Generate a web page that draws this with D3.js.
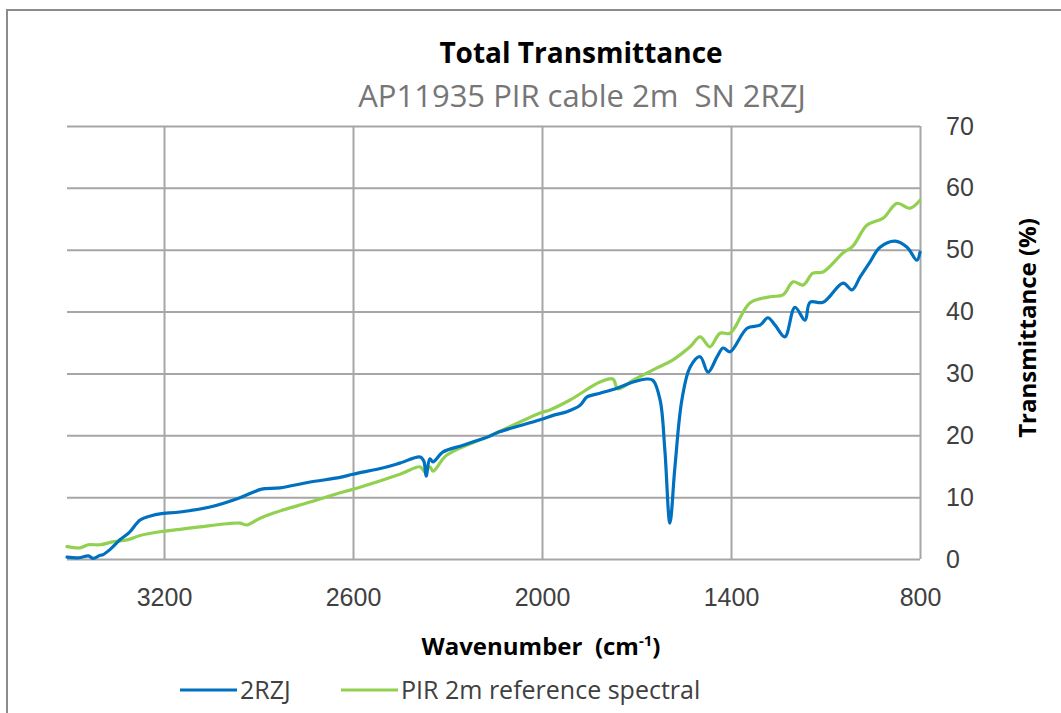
<!DOCTYPE html>
<html>
<head>
<meta charset="utf-8">
<script src="https://cdn.jsdelivr.net/npm/d3@7"></script>
<style>
  body { margin: 0; background: #fff; }
  svg { display: block; font-family: "Open Sans", "Noto Sans", sans-serif; }
</style>
</head>
<body>
<div id="graphicContainer"></div>
<script>

// 2RZJ measured spectrum: wavenumber (cm-1) / transmittance (%)
var blueWn = [3508, 3470, 3440, 3425, 3403, 3394, 3370, 3340, 3310, 3276, 3240, 3213, 3149, 3054, 2959, 2917, 2890, 2832, 2740, 2641, 2600, 2500, 2451, 2387, 2375, 2368, 2356, 2346, 2314, 2250, 2165, 2133, 2006, 1960, 1921, 1880, 1857, 1816, 1762, 1711, 1667, 1648, 1625, 1610, 1594, 1578, 1556, 1530, 1498, 1473, 1444, 1425, 1403, 1349, 1308, 1283, 1260, 1229, 1197, 1165, 1149, 1108, 1044, 1016, 990, 959, 927, 879, 841, 810, 800]
var blueT = [0.3, 0.2, 0.5, 0.1, 0.6, 0.7, 1.6, 3.1, 4.3, 6.3, 7.0, 7.3, 7.6, 8.4, 9.9, 10.8, 11.3, 11.5, 12.4, 13.2, 13.7, 14.8, 15.5, 16.5, 15.8, 13.4, 16.2, 15.7, 17.3, 18.4, 19.9, 20.6, 22.5, 23.3, 23.8, 24.8, 26.2, 26.8, 27.6, 28.6, 29.1, 28.9, 25.7, 17.6, 5.8, 14.9, 25.7, 31.0, 32.7, 30.2, 32.7, 34.1, 33.5, 37.3, 37.8, 39.0, 37.8, 35.9, 40.7, 38.6, 41.5, 41.5, 44.6, 43.5, 45.6, 48.0, 50.4, 51.4, 50.4, 48.3, 49.6]

// PIR 2m reference spectral
var greenWn = [3508, 3467, 3440, 3403, 3360, 3317, 3276, 3213, 3149, 3086, 3000, 2959, 2937, 2895, 2854, 2737, 2641, 2578, 2451, 2387, 2372, 2356, 2346, 2302, 2165, 2006, 1975, 1911, 1816, 1775, 1759, 1711, 1635, 1584, 1530, 1498, 1467, 1435, 1403, 1340, 1276, 1235, 1203, 1171, 1140, 1108, 1044, 1013, 968, 917, 873, 832, 800]
var greenT = [2.0, 1.8, 2.3, 2.3, 2.8, 3.1, 3.8, 4.4, 4.8, 5.2, 5.7, 5.8, 5.5, 6.6, 7.4, 9.2, 10.7, 11.6, 13.7, 14.9, 14.1, 14.9, 14.2, 16.8, 19.9, 23.6, 24.1, 25.7, 28.6, 29.1, 27.5, 28.9, 30.9, 32.2, 34.3, 35.9, 34.3, 36.5, 36.5, 41.4, 42.4, 42.7, 44.8, 44.3, 46.2, 46.4, 49.5, 50.6, 54.0, 55.1, 57.5, 56.7, 58.0]

var xTicks = [3200, 2600, 2000, 1400, 800]
var yTicks = [0, 10, 20, 30, 40, 50, 60, 70]

var seriesNames = ["2RZJ", "PIR 2m reference spectral"]
var seriesColours = ["#0070C0", "#92D050"]

var width = 1061, height = 713

var margin = { top: 126, right: 141, bottom: 154, left: 67 }

var svg = d3.select("#graphicContainer").append("svg")
  .attr("width", width)
  .attr("height", height)

// chart area border (only top and left visible in the frame)
svg.append("rect")
  .attr("x", 7).attr("y", 10)
  .attr("width", 1100).attr("height", 800)
  .attr("fill", "none")
  .attr("stroke", "#8c8c8c")
  .attr("stroke-width", 2)

var x = d3.scaleLinear()
  .domain([3508, 800])
  .range([margin.left, width - margin.right])

var y = d3.scaleLinear()
  .domain([0, 70])
  .range([height - margin.bottom, margin.top])

var gridColour = "#a6a6a6"
var tickColour = "#404040"

// vertical gridlines + x labels
var xAxis = svg.append("g")
  .attr("transform", `translate(0,${y(0)})`)
  .call(d3.axisBottom(x)
    .tickValues(xTicks)
    .tickFormat(d3.format("d"))
    .tickSize(-(y(0) - y(70)))
    .tickPadding(29)
    .tickSizeOuter(0))

xAxis.select(".domain").remove()
xAxis.selectAll("line").attr("stroke", gridColour).attr("stroke-width", 2)
xAxis.selectAll("text")
  .attr("fill", tickColour)
  .style("font-size", "25px")

// horizontal gridlines
var grid = svg.append("g")
  .attr("transform", `translate(${x(800)},0)`)
  .call(d3.axisLeft(y)
    .tickValues(yTicks)
    .tickSize(x(800) - x(3508))
    .tickFormat(""))

grid.select(".domain").remove()
grid.selectAll("line").attr("stroke", gridColour).attr("stroke-width", 2)

// right-hand y axis labels
var yAxis = svg.append("g")
  .attr("transform", `translate(${x(800)},0)`)
  .call(d3.axisRight(y)
    .tickValues(yTicks)
    .tickSize(0)
    .tickPadding(26))

yAxis.select(".domain").remove()
yAxis.selectAll("text")
  .attr("fill", tickColour)
  .style("font-size", "25px")

var line = d3.line()
  .x(d => x(d[0]))
  .y(d => y(d[1]))
  .curve(d3.curveCatmullRom.alpha(0.5))

var series = [
  d3.zip(blueWn, blueT),
  d3.zip(greenWn, greenT)
]

// green drawn first so blue sits over it where they cross
svg.selectAll(".series")
  .data([1, 0])
  .enter()
  .append("path")
  .attr("class", "series")
  .attr("d", i => line(series[i]))
  .attr("fill", "none")
  .attr("stroke", i => seriesColours[i])
  .attr("stroke-width", 3.2)
  .attr("stroke-linejoin", "round")
  .attr("stroke-linecap", "round")

// titles
svg.append("text")
  .attr("x", 581).attr("y", 63)
  .attr("text-anchor", "middle")
  .attr("font-weight", "bold")
  .style("font-size", "28px")
  .attr("fill", "#000")
  .text("Total Transmittance")

svg.append("text")
  .attr("x", 582).attr("y", 107)
  .attr("text-anchor", "middle")
  .style("font-size", "31px")
  .attr("fill", "#767676")
  .text("AP11935 PIR cable 2m\u00a0\u00a0SN 2RZJ")

var xTitle = svg.append("text")
  .attr("x", 541).attr("y", 655)
  .attr("text-anchor", "middle")
  .attr("font-weight", "bold")
  .style("font-size", "24px")
  .attr("fill", "#000")

xTitle.append("tspan").text("Wavenumber\u00a0\u00a0(cm")
xTitle.append("tspan").attr("dy", -9).style("font-size", "15px").text("-1")
xTitle.append("tspan").attr("dy", 9).text(")")

svg.append("text")
  .attr("transform", "translate(1036,328) rotate(-90)")
  .attr("text-anchor", "middle")
  .attr("font-weight", "bold")
  .style("font-size", "24px")
  .attr("fill", "#000")
  .text("Transmittance (%)")

// legend
var legendX = [180, 341]

var legend = svg.selectAll(".legendItem")
  .data(seriesNames)
  .enter()
  .append("g")
  .attr("class", "legendItem")
  .attr("transform", (d, i) => `translate(${legendX[i]},690)`)

legend.append("line")
  .attr("x1", 0).attr("x2", 57)
  .attr("y1", 0).attr("y2", 0)
  .attr("stroke", (d, i) => seriesColours[i])
  .attr("stroke-width", 3.2)

legend.append("text")
  .attr("x", 60)
  .attr("y", 9)
  .attr("fill", tickColour)
  .style("font-size", "25px")
  .text(d => d)

</script>
</body>
</html>
